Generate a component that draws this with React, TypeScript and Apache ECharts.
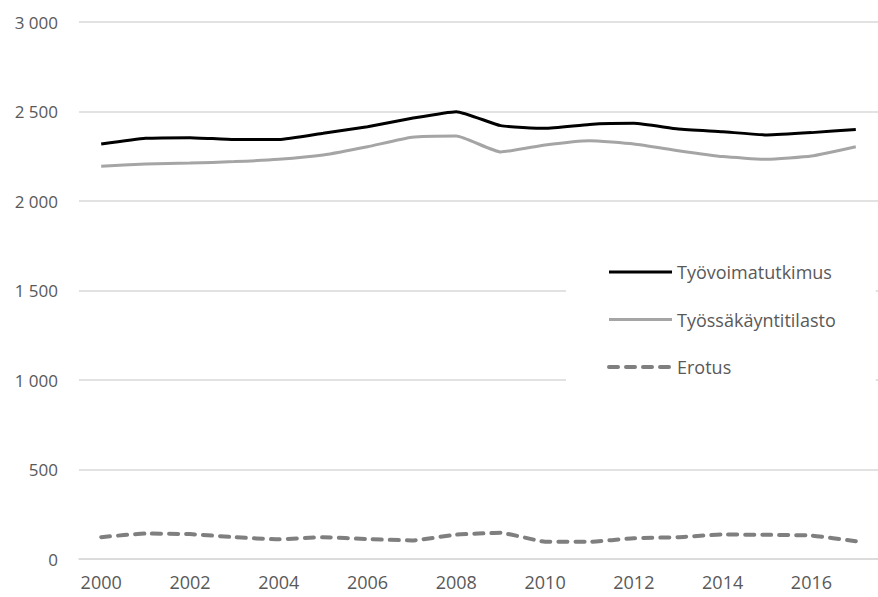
import React, { useEffect, useRef } from "react";
import * as echarts from "echarts";

const years = ["2000","2001","2002","2003","2004","2005","2006","2007","2008","2009","2010","2011","2012","2013","2014","2015","2016","2017"];
const tyovoimatutkimus = [2318,2350,2354,2343,2343,2378,2415,2462,2499,2421,2406,2428,2434,2402,2387,2369,2382,2400];
const tyossakayntitilasto = [2194,2207,2212,2220,2233,2257,2303,2356,2363,2274,2313,2337,2318,2281,2248,2233,2251,2303];
const erotus = [122,142,139,122,110,122,111,104,136,146,97,96,116,122,137,135,131,99];
const seriesNames = ["Työvoimatutkimus", "Työssäkäyntitilasto", "Erotus"];

export default function App() {
  const ref = useRef<HTMLDivElement>(null);
  useEffect(() => {
    if (!ref.current) return;
    const chart = echarts.init(ref.current, null, { renderer: "svg" });
    const font = "'Open Sans', sans-serif";
    const dash = { color: "#7f7f7f", width: 4, type: [9, 8], cap: "round" };
    chart.setOption({
      animation: false,
      backgroundColor: "#ffffff",
      grid: { left: 79, right: -11, top: 22, bottom: 38 },
      legend: {
        orient: "vertical",
        left: 566,
        top: 255,
        backgroundColor: "#ffffff",
        padding: [8, 40, 15, 41],
        itemWidth: 63,
        itemHeight: 20,
        itemGap: 29.5,
        itemStyle: { opacity: 0 },
        textStyle: { fontFamily: font, fontSize: 18, color: "#595959" },
        data: [
          { name: seriesNames[0], lineStyle: { color: "#000000", width: 3 } },
          { name: seriesNames[1], lineStyle: { color: "#a5a5a5", width: 3 } },
          { name: seriesNames[2], lineStyle: dash },
        ],
      },
      xAxis: {
        type: "category",
        data: years,
        boundaryGap: true,
        axisLine: { show: true, lineStyle: { color: "#d9d9d9", width: 1.5 } },
        axisTick: { show: false },
        axisLabel: { interval: 1, margin: 14, fontFamily: font, fontSize: 18, color: "#595959" },
      },
      yAxis: {
        type: "value",
        min: 0,
        max: 3000,
        interval: 500,
        axisLine: { show: false },
        axisTick: { show: false },
        splitLine: { lineStyle: { color: "#d9d9d9", width: 1.5 } },
        axisLabel: {
          margin: 21,
          fontFamily: font,
          fontSize: 17,
          color: "#595959",
          formatter: (v: number) => String(v).replace(/\B(?=(\d{3})+(?!\d))/g, " "),
        },
      },
      series: [
        {
          name: seriesNames[0],
          type: "line",
          data: tyovoimatutkimus,
          symbol: "none",
          smooth: 0.15,
          lineStyle: { color: "#000000", width: 3 },
          itemStyle: { color: "#000000" },
          z: 3,
        },
        {
          name: seriesNames[1],
          type: "line",
          data: tyossakayntitilasto,
          symbol: "none",
          smooth: 0.15,
          lineStyle: { color: "#a5a5a5", width: 3 },
          itemStyle: { color: "#a5a5a5" },
          z: 2,
        },
        {
          name: seriesNames[2],
          type: "line",
          data: erotus,
          symbol: "none",
          smooth: 0.15,
          lineStyle: dash,
          itemStyle: { color: "#7f7f7f" },
          z: 2,
        },
      ],
    });
    return () => chart.dispose();
  }, []);
  return (
    <div
      ref={ref}
      style={{ position: "fixed", left: 0, top: 0, width: 878, height: 597, background: "#fff" }}
    />
  );
}
